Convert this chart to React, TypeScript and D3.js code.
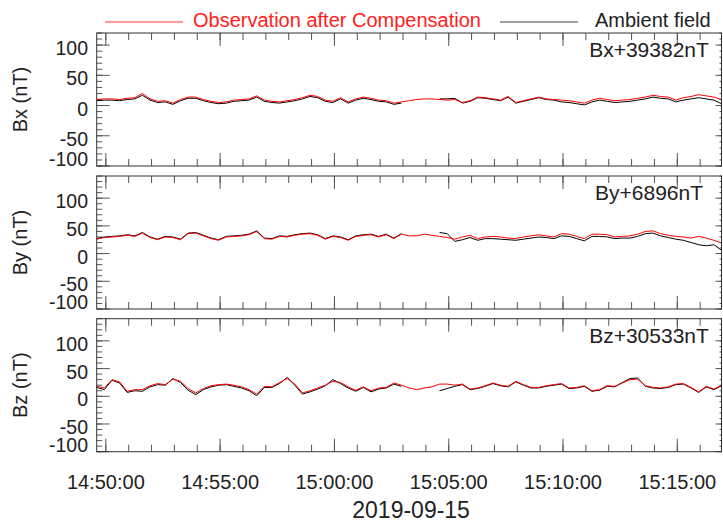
import * as d3 from 'd3';

// 20 s samples from 14:49:36 to 15:16:56 UT, 2019-09-15
const startTime = Date.UTC(2019, 8, 15, 14, 49, 36);
const endTime = Date.UTC(2019, 8, 15, 15, 16, 56);
const stepSec = 20;

const bxObs = [10, 11, 11, 10, 12, 13, 20, 11, 7, 8, 4, 10, 14, 14, 10, 7, 5, 6, 9, 10, 11, 16, 9, 7, 6, 8, 10, 13, 17, 15, 9, 7, 13, 6, 11, 14, 12, 9, 8, 4, 6, 8,
  10, 11, 11, 10, 9, 10, 5, 8, 14, 13, 11, 9, 15, 5, 8, 11, 14, 11, 10, 9, 8, 6, 4, 9, 12, 10, 8, 9, 10, 12, 14, 17, 15, 14, 9, 13, 15, 18, 16, 14, 10];
const bxAmb = [8, 9, 9, 8, 10, 11, 17, 9, 5, 6, 2, 8, 12, 12, 8, 5, 3, 4, 7, 8, 9, 14, 7, 5, 4, 6, 8, 11, 15, 13, 7, 5, 11, 4, 9, 12, 10, 7, 6, 2, 4,
  null, null, null, null,
  11, 11, 12, 4, 7, 13, 12, 10, 8, 14, 4, 7, 10, 13, 10, 9, 6, 5, 3, 1, 6, 9, 7, 5, 6, 7, 9, 11, 14, 12, 11, 6, 9, 11, 13, 11, 9, 3];

const byObs = [26, 29, 30, 31, 33, 31, 37, 29, 25, 30, 29, 25, 36, 37, 32, 27, 24, 30, 31, 32, 34, 40, 27, 26, 31, 30, 33, 35, 36, 33, 26, 31, 29, 24, 31, 33, 34, 30, 34, 27, 35, 32,
  32, 35, 33, 31, 29, 26, 30, 33, 27, 30, 31, 30, 28, 27, 30, 32, 34, 32, 30, 36, 35, 31, 27, 35, 35, 34, 30, 31, 32, 35, 40, 41, 36, 33, 31, 30, 28, 31, 28, 24, 19];
const byAmb = [27, 30, 31, 32, 34, 32, 38, 30, 26, 31, 30, 26, 37, 38, 33, 28, 25, 31, 32, 33, 35, 41, 28, 27, 32, 31, 34, 36, 37, 34, 27, 32, 30, 25, 32, 34, 35, 31, 35, 28, 36,
  null, null, null, null,
  38, 36, 22, 25, 29, 24, 27, 27, 26, 25, 24, 26, 28, 30, 29, 27, 32, 31, 27, 23, 31, 31, 30, 27, 28, 28, 31, 36, 37, 32, 29, 26, 24, 20, 16, 14, 16, 6];

const bzObs = [18, 15, 30, 26, 9, 12, 12, 19, 23, 21, 31, 27, 14, 6, 14, 19, 21, 22, 20, 17, 12, 4, 18, 17, 25, 32, 22, 6, 10, 15, 20, 27, 25, 17, 11, 17, 10, 15, 16, 24, 20, 15,
  12, 15, 17, 22, 22, 20, 22, 13, 15, 19, 24, 20, 18, 27, 21, 16, 16, 19, 21, 23, 15, 16, 19, 10, 12, 19, 18, 24, 30, 31, 19, 16, 15, 17, 22, 23, 16, 8, 18, 13, 20];
const bzAmb = [16, 12, 29, 24, 7, 10, 9, 17, 21, 20, 32, 25, 11, 3, 12, 17, 20, 21, 18, 15, 10, 1, 16, 16, 23, 34, 20, 4, 8, 13, 19, 30, 23, 15, 9, 16, 8, 13, 15, 22, 18,
  null, null, null, null,
  10, 14, 18, 21, 12, 14, 18, 23, 19, 17, 26, 20, 15, 15, 18, 20, 22, 14, 15, 18, 9, 11, 18, 17, 25, 32, 33, 18, 15, 14, 16, 21, 22, 15, 7, 17, 12, 19];

const panelLabels = ['Bx (nT)', 'By (nT)', 'Bz (nT)'];
const panelNotes = ['Bx+39382nT', 'By+6896nT', 'Bz+30533nT'];
const panelYMax = [120, 140, 140];
const yMin = -100;
const majorYTicks = [-100, -50, 0, 50, 100];
const legendLabels = ['Observation after Compensation', 'Ambient field'];
const dateLabel = '2019-09-15';

const font = "'Liberation Sans', Arial, Helvetica, sans-serif";
const textColor = '#222';
const frameColor = '#333';
const tickColor = '#555';

type Val = number | null;

export default function App() {
  const width = 723;
  const height = 524;
  const left = 96.7;
  const right = 721.5;
  const panelH = 133;
  const panelTops = [33, 176, 318.7];

  const x = d3.scaleUtc().domain([new Date(startTime), new Date(endTime)]).range([left, right]);
  const times = bxObs.map((_, i) => new Date(startTime + i * stepSec * 1000));
  const minorX = x.ticks(d3.utcMinute.every(1)!);
  const majorX = x.ticks(d3.utcMinute.every(5)!);
  const fmt = d3.utcFormat('%H:%M:%S');

  const series = [
    [bxObs, bxAmb],
    [byObs, byAmb],
    [bzObs, bzAmb],
  ];

  const panels = series.map(([obs, amb], k) => {
    const top = panelTops[k];
    const bottom = top + panelH;
    const y = d3.scaleLinear().domain([yMin, panelYMax[k]]).range([bottom, top]);
    const line = d3
      .line<Val>()
      .defined((d) => d !== null)
      .x((_, i) => x(times[i]))
      .y((d) => y(d as number));
    const minorY = d3.range(yMin, panelYMax[k] + 0.1, 10);
    return (
      <g key={k}>
        {/* x ticks top and bottom */}
        {minorX.map((t, i) => (
          <g key={'mx' + i} stroke={tickColor} strokeWidth={1}>
            <line x1={x(t)} x2={x(t)} y1={top} y2={top + 7} />
            <line x1={x(t)} x2={x(t)} y1={bottom} y2={bottom - 7} />
          </g>
        ))}
        {majorX.map((t, i) => (
          <g key={'Mx' + i} stroke={tickColor} strokeWidth={1}>
            <line x1={x(t)} x2={x(t)} y1={top} y2={top + 13} />
            <line x1={x(t)} x2={x(t)} y1={bottom} y2={bottom - 13} />
          </g>
        ))}
        {/* y ticks left and right */}
        {minorY.map((v, i) => (
          <g key={'my' + i} stroke={tickColor} strokeWidth={1}>
            <line x1={left} x2={left + 5.5} y1={y(v)} y2={y(v)} />
            <line x1={right} x2={right - 2} y1={y(v)} y2={y(v)} />
          </g>
        ))}
        {majorYTicks.map((v, i) => (
          <g key={'My' + i} stroke={tickColor} strokeWidth={1}>
            <line x1={left} x2={left + 13} y1={y(v)} y2={y(v)} />
            <line x1={right} x2={right - 6} y1={y(v)} y2={y(v)} />
          </g>
        ))}
        {majorYTicks.map((v, i) => (
          <text
            key={'yl' + i}
            x={88}
            y={Math.min(y(v) + 10, bottom)}
            textAnchor="end"
            fontSize={19.5}
            fontFamily={font}
            fill={textColor}
          >
            {v}
          </text>
        ))}
        <path d={line(amb as Val[]) ?? ''} fill="none" stroke="#000" strokeWidth={1} />
        <path d={line(obs as Val[]) ?? ''} fill="none" stroke="#ff0000" strokeWidth={1} />
        <rect x={left} y={top} width={right - left} height={panelH} fill="none" stroke={frameColor} strokeWidth={1} />
        <text x={649} y={top + 24} textAnchor="middle" fontSize={21} fontFamily={font} fill={textColor}>
          {panelNotes[k]}
        </text>
        <text
          transform={`translate(27,${top + panelH / 2}) rotate(-90)`}
          textAnchor="middle"
          fontSize={20}
          fontFamily={font}
          fill={textColor}
        >
          {panelLabels[k]}
        </text>
      </g>
    );
  });

  const lastBottom = panelTops[2] + panelH;

  return (
    <svg width={width} height={height} style={{ position: 'absolute', left: 0, top: 0, background: '#fff' }}>
      {/* legend */}
      <line x1={105} x2={183} y1={22} y2={22} stroke="#ff3333" strokeWidth={1.2} />
      <text x={193} y={27} fontSize={20} fontFamily={font} fill="#ff2020">
        {legendLabels[0]}
      </text>
      <line x1={500} x2={578} y1={22} y2={22} stroke="#444" strokeWidth={1.2} />
      <text x={595} y={27} fontSize={20} fontFamily={font} fill={textColor}>
        {legendLabels[1]}
      </text>
      {panels}
      {majorX.map((t, i) => (
        <text
          key={'xl' + i}
          x={x(t)}
          y={lastBottom + 37}
          textAnchor="middle"
          fontSize={20}
          fontFamily={font}
          fill={textColor}
        >
          {fmt(t)}
        </text>
      ))}
      <text x={(left + right) / 2 + 2} y={518} textAnchor="middle" fontSize={23} fontFamily={font} fill={textColor}>
        {dateLabel}
      </text>
    </svg>
  );
}
